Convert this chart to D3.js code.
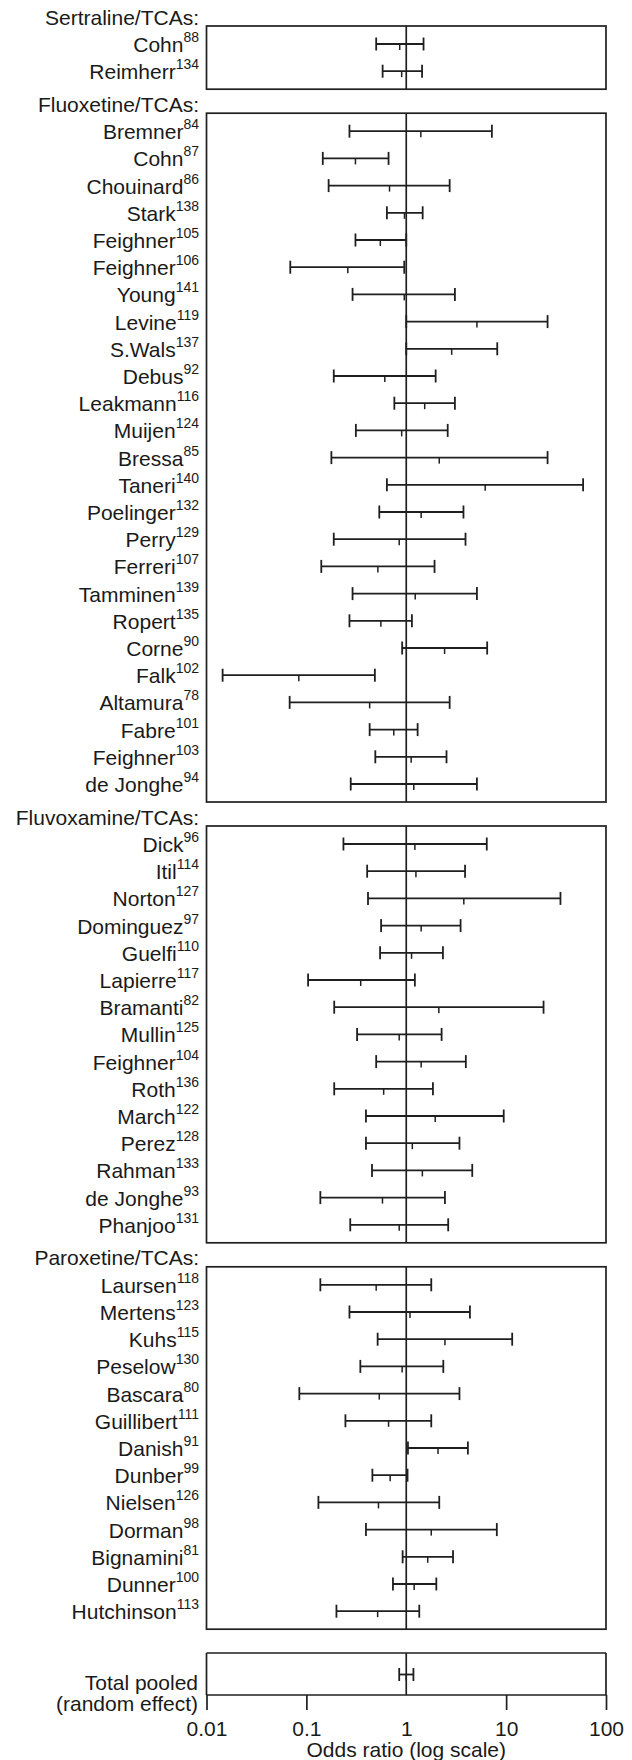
<!DOCTYPE html>
<html><head><meta charset="utf-8">
<script src="https://cdn.jsdelivr.net/npm/d3@7"></script>
<style>
body{margin:0;background:#fff}
svg{display:block}
text{font-family:"Liberation Sans",Arial,Helvetica,sans-serif;fill:#1a1a1a}
</style>
</head><body>
<svg id="chart" width="632" height="1760"></svg>
<script>
// ---------------- data ----------------
const groupTitles = ["Sertraline/TCAs:", "Fluoxetine/TCAs:", "Fluvoxamine/TCAs:", "Paroxetine/TCAs:"];

const sertralineStudies = ["Cohn", "Reimherr"];
const sertralineRefs = ["88", "134"];
const sertralineLo = [0.50, 0.58];
const sertralineOR = [0.86, 0.90];
const sertralineHi = [1.49, 1.44];

const fluoxetineStudies = ["Bremner","Cohn","Chouinard","Stark","Feighner","Feighner","Young","Levine","S.Wals","Debus","Leakmann","Muijen","Bressa","Taneri","Poelinger","Perry","Ferreri","Tamminen","Ropert","Corne","Falk","Altamura","Fabre","Feighner","de Jonghe"];
const fluoxetineRefs = ["84","87","86","138","105","106","141","119","137","92","116","124","85","140","132","129","107","139","135","90","102","78","101","103","94"];
const fluoxetineLo = [0.27,0.146,0.167,0.64,0.31,0.069,0.29,1.0,1.0,0.188,0.76,0.313,0.178,0.64,0.537,0.188,0.141,0.29,0.27,0.91,0.0145,0.068,0.43,0.49,0.278];
const fluoxetineOR = [1.40,0.31,0.68,0.96,0.55,0.26,0.955,5.1,2.85,0.61,1.53,0.90,2.14,6.17,1.41,0.85,0.52,1.23,0.557,2.42,0.084,0.43,0.75,1.12,1.19];
const fluoxetineHi = [7.2,0.665,2.72,1.46,1.0,0.955,3.07,26,8.15,1.97,3.07,2.60,26,59,3.74,3.92,1.92,5.1,1.14,6.46,0.485,2.72,1.30,2.53,5.1];

const fluvoxamineStudies = ["Dick","Itil","Norton","Dominguez","Guelfi","Lapierre","Bramanti","Mullin","Feighner","Roth","March","Perez","Rahman","de Jonghe","Phanjoo"];
const fluvoxamineRefs = ["96","114","127","97","110","117","82","125","104","136","122","128","133","93","131"];
const fluvoxamineLo = [0.235,0.406,0.414,0.56,0.547,0.104,0.19,0.322,0.50,0.19,0.395,0.395,0.454,0.138,0.275];
const fluvoxamineOR = [1.22,1.25,3.77,1.41,1.13,0.35,2.12,0.85,1.41,0.594,1.95,1.15,1.45,0.578,0.85];
const fluvoxamineHi = [6.4,3.88,35,3.50,2.33,1.22,23.7,2.26,3.95,1.85,9.46,3.41,4.58,2.44,2.63];

const paroxetineStudies = ["Laursen","Mertens","Kuhs","Peselow","Bascara","Guillibert","Danish","Dunber","Nielsen","Dorman","Bignamini","Dunner","Hutchinson"];
const paroxetineRefs = ["118","123","115","130","80","111","91","99","126","98","81","100","113"];
const paroxetineLo = [0.138,0.27,0.517,0.347,0.085,0.246,1.04,0.458,0.132,0.395,0.92,0.736,0.20];
const paroxetineOR = [0.50,1.09,2.44,0.91,0.537,0.665,2.08,0.69,0.527,1.78,1.64,1.2,0.517];
const paroxetineHi = [1.78,4.34,11.5,2.35,3.41,1.78,4.14,1.03,2.14,8.07,2.94,2.0,1.35];

const pooledLabel = ["Total pooled", "(random effect)"];
const pooledLo = [0.85];
const pooledOR = [1.0];
const pooledHi = [1.18];

const tickValues = [0.01, 0.1, 1, 10, 100];
const tickLabels = ["0.01", "0.1", "1", "10", "100"];
const axisTitle = "Odds ratio (log scale)";

// ---------------- layout ----------------
const svg = d3.select("#chart");
const plotLeft = 206.5, plotRight = 606;
const x = d3.scaleLog().domain([0.01, 100]).range([plotLeft, plotRight]);
const labelX = 199;
const pitch = 27.2, pad = 18, gap = 24;
const fs = 21, fsSup = 14;
const ink = "#1f1f1f";

function mk(names, refs, lo, or, hi) {
  return names.map((n, i) => ({ id: i + ":" + n, name: n, ref: refs[i], lo: lo[i], or: or[i], hi: hi[i] }));
}
const panels = [
  mk(sertralineStudies, sertralineRefs, sertralineLo, sertralineOR, sertralineHi),
  mk(fluoxetineStudies, fluoxetineRefs, fluoxetineLo, fluoxetineOR, fluoxetineHi),
  mk(fluvoxamineStudies, fluvoxamineRefs, fluvoxamineLo, fluvoxamineOR, fluvoxamineHi),
  mk(paroxetineStudies, paroxetineRefs, paroxetineLo, paroxetineOR, paroxetineHi)
];

function drawBar(g, d, yy) {
  const b = g.append("g").attr("stroke", ink).attr("stroke-width", 1.8).attr("fill", "none");
  b.append("line").attr("x1", x(d.lo)).attr("x2", x(d.hi)).attr("y1", yy).attr("y2", yy);
  b.append("line").attr("x1", x(d.lo)).attr("x2", x(d.lo)).attr("y1", yy - 6.5).attr("y2", yy + 6.5);
  b.append("line").attr("x1", x(d.hi)).attr("x2", x(d.hi)).attr("y1", yy - 6.5).attr("y2", yy + 6.5);
  b.append("line").attr("x1", x(d.or)).attr("x2", x(d.or)).attr("y1", yy).attr("y2", yy + 6).attr("stroke-width", 1.5);
}

let panelTop = 26;
panels.forEach((rows, pi) => {
  const firstY = panelTop + pad;
  const lastY = firstY + (rows.length - 1) * pitch;
  const bottom = lastY + pad;
  const y = d3.scalePoint().domain(rows.map(r => r.id)).range([firstY, lastY]);
  const g = svg.append("g");

  g.append("text").attr("x", labelX).attr("y", panelTop - 1.5).attr("text-anchor", "end")
    .attr("font-size", fs).text(groupTitles[pi]);

  g.append("rect").attr("x", plotLeft).attr("y", panelTop).attr("width", plotRight - plotLeft)
    .attr("height", bottom - panelTop).attr("fill", "none").attr("stroke", ink).attr("stroke-width", 1.7);

  g.append("line").attr("x1", x(1)).attr("x2", x(1)).attr("y1", panelTop).attr("y2", bottom)
    .attr("stroke", ink).attr("stroke-width", 1.7);

  rows.forEach(d => {
    const yy = y(d.id);
    const t = g.append("text").attr("x", labelX).attr("y", yy + 8).attr("text-anchor", "end").attr("font-size", fs);
    t.append("tspan").text(d.name);
    t.append("tspan").attr("font-size", fsSup).attr("dy", -10).text(d.ref);
    drawBar(g, d, yy);
  });
  panelTop = bottom + gap;
});

// ---------------- pooled panel + axis ----------------
const pTop = 1653, pBottom = 1695;
const pooled = pooledLo.map((v, i) => ({ id: "pooled" + i, lo: v, or: pooledOR[i], hi: pooledHi[i] }));
const yP = d3.scalePoint().domain(pooled.map(d => d.id)).range([1674.5, 1674.5]);
const gp = svg.append("g");
gp.append("line").attr("x1", plotLeft).attr("x2", plotRight).attr("y1", pTop).attr("y2", pTop)
  .attr("stroke", ink).attr("stroke-width", 1.7);
gp.append("line").attr("x1", x(1)).attr("x2", x(1)).attr("y1", pTop).attr("y2", pBottom)
  .attr("stroke", ink).attr("stroke-width", 1.7);
pooled.forEach(d => drawBar(gp, d, yP(d.id)));

gp.append("text").attr("x", 198).attr("y", 1690).attr("text-anchor", "end").attr("font-size", fs).text(pooledLabel[0]);
gp.append("text").attr("x", 198).attr("y", 1711).attr("text-anchor", "end").attr("font-size", fs).text(pooledLabel[1]);

const axis = d3.axisBottom(x).tickValues(tickValues)
  .tickFormat((d, i) => tickLabels[i]).tickSize(15).tickPadding(11);
const ga = svg.append("g").attr("transform", `translate(0,${pBottom})`).call(axis);
ga.select(".domain").remove();
ga.attr("font-family", null).attr("font-size", fs);
ga.selectAll(".tick line").attr("stroke", ink).attr("stroke-width", 1.7);
ga.selectAll(".tick").filter(d => d === 1).select("line").remove();
ga.selectAll(".tick text").attr("fill", "#1a1a1a");

gp.append("line").attr("x1", plotLeft).attr("x2", plotLeft).attr("y1", pTop).attr("y2", pBottom)
  .attr("stroke", ink).attr("stroke-width", 1.7);
gp.append("line").attr("x1", plotRight).attr("x2", plotRight).attr("y1", pTop).attr("y2", pBottom)
  .attr("stroke", ink).attr("stroke-width", 1.7);
svg.append("line").attr("x1", plotLeft).attr("x2", plotRight).attr("y1", pBottom).attr("y2", pBottom)
  .attr("stroke", ink).attr("stroke-width", 1.7);

svg.append("text").attr("x", x(1)).attr("y", 1757).attr("text-anchor", "middle")
  .attr("font-size", fs).text(axisTitle);
</script>
</body></html>
